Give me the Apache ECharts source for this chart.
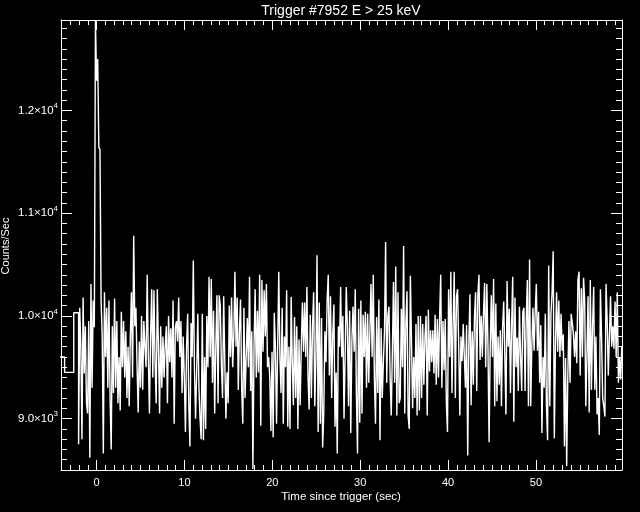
<!DOCTYPE html>
<html><head><meta charset="utf-8">
<script src="https://cdn.jsdelivr.net/npm/echarts@6/dist/echarts.min.js"></script>
<style>html,body{margin:0;padding:0;background:#000}#c{width:640px;height:512px}</style>
</head><body><div id="c"></div>
<script>
const titleText = 'Trigger #7952 E > 25 keV';
const xName = 'Time since trigger (sec)';
const yName = 'Counts/Sec';
const coarseTimes = [-4.7, -3.64, -2.6];
const coarseCounts = [9600, 9450, 10030];
const fineStart = -2.048;
const fineWidth = 0.128;
const fineCounts = [
8750,10080,9700,8800,10180,9440,9900,9150,9050,9950,8620,10310,9300,10150,9890,12880,12290,12500,11640,11620,10150,9800,8660,10230,9600,10080,9300,10150,9200,8700,9900,9250,
10170,9300,9950,9150,9600,9080,10040,9500,9950,9400,9850,9200,9700,9120,9800,10230,9400,10780,9900,10080,9500,9060,9750,9300,10000,9280,9950,9700,9500,10400,9600,9050,9800,10260,9400,10250,9550,9150,10260,9700,9050,9900,9300,9800,9400,9700,9900,9150,10000,9550,9880,9400,10150,8950,9880,
9950,9750,10180,9600,9950,9250,9800,9400,8870,9700,
10020,9120,8730,9930,9600,10540,9500,9000,9450,10020,
9300,9000,8800,10020,8790,9600,8900,10000,9500,10380,
9600,10360,9350,10050,9050,9700,10200,9150,10200,10100,
9500,9200,10190,9550,9000,9450,9150,10100,9600,10180,
9500,9800,10430,9700,10180,9280,9850,10160,9300,8950,
10080,9200,9600,9980,9500,10380,9270,9850,8510,9700,
10260,9400,10050,9450,10400,8930,10350,9650,10250,9800,
10310,9500,9600,9400,8880,9650,8820,10030,9700,8950,
9700,10430,9600,9250,10080,8950,9800,9500,10250,
8920,9700,8900,10185,9550,9130,9990,9200,9900,8900,
9770,9130,9700,10130,9650,10130,9600,10280,9400,9090,
10010,9200,9900,10230,9120,9600,10590,8870,10130,8950,
9980,8720,9050,9850,9550,10160,10400,9420,10190,9200,
9820,10110,8920,9450,8660,9900,9700,10280,9600,10000,
9000,9600,10280,9900,9120,10050,8860,9750,10090,9650,
10260,9250,8660,10070,8960,10150,9050,10010,9600,10040,
9300,10020,9350,9850,10310,9600,10400,9400,8950,9990,
9250,10160,8790,9880,9200,9550,9850,10720,9350,10000,
10090,9400,9030,9650,10330,9350,10480,9030,10230,9150,
9200,10070,9500,10680,9050,9930,10240,9030,8900,10390,
9750,9100,9600,9200,9920,9030,10000,9080,10000,9200,
9920,9330,9800,10000,9030,10060,9460,9860,9550,9860,
9440,10010,9330,9970,9400,9980,10400,9300,9950,9470,
9970,9160,8870,10260,9600,10430,9250,9920,10430,9200,
10190,10260,9700,9030,9800,9560,9920,9600,9300,9910,
8640,9750,10210,9130,9850,9330,9990,10230,9270,10200,
10400,9570,10000,9600,10010,10320,9500,10310,9700,8770,
9700,10200,9600,10360,9120,10120,9170,9800,9330,9860,
9120,9880,10140,9600,9040,10340,9700,10070,9250,9900,
10380,8970,10180,9500,9790,9270,10090,9600,9270,10040,
10080,9270,9950,10350,9120,10550,9120,9700,10080,9660,
10040,10310,9660,10040,9350,9910,8860,9600,9300,10020,
9120,8790,10490,9120,10020,10230,10630,8810,9700,10230,
9650,10150,9600,10020,9660,9820,8730,9590,8540,9410,
9950,9350,10020,9930,9820,9600,9850,9540,10350,10430,
9420,10270,9600,10370,10150,9120,9600,10190,9060,10350,
9280,9900,10280,9280,9800,9040,9200,8840,10260,9800,
9200,9120,9020,10310,9950,9420,9800,10190,9700,9900,
9680,10140,9600,10230,9350,9600,9380,9700
];
const xRange = [-4.05, 59.8];
const yRange = [8500, 12880];

const data = [];
coarseTimes.forEach((t, i) => data.push([t, coarseCounts[i]]));
fineCounts.forEach((v, i) => data.push([+(fineStart + i * fineWidth).toFixed(3), v]));
data.push([+(fineStart + fineCounts.length * fineWidth).toFixed(3), fineCounts[fineCounts.length - 1]]);

const FONT = 'Liberation Sans';
const white = '#ffffff';
const tick = {show: true, inside: true, length: 10, lineStyle: {color: white, width: 1}};
const minor = {show: true, splitNumber: 10, length: 5, lineStyle: {color: white, width: 1}};
const ytick = {show: true, inside: true, length: 11, lineStyle: {color: white, width: 1}};
const yminor = {show: true, splitNumber: 10, length: 6, lineStyle: {color: white, width: 1}};
const line = {show: true, onZero: false, lineStyle: {color: white, width: 1}};

function xfmt(v) {
  const r = Math.round(v / 10) * 10;
  return Math.abs(v - r) < 1e-6 ? String(r) : '';
}
function yfmt(v) {
  if (Math.abs(v % 1000) > 1e-6) return '';
  const e = Math.floor(Math.log10(v));
  const m = (v / Math.pow(10, e)).toFixed(1);
  return '{b|' + m + '×10}{s|' + e + '}';
}

const chart = echarts.init(document.getElementById('c'), null, {renderer: 'canvas'});
chart.setOption({
  backgroundColor: '#000000',
  animation: false,
  grid: {left: 61, right: 18, top: 20, bottom: 42, containLabel: false},
  xAxis: [
    {type: 'value', position: 'bottom', min: xRange[0], max: xRange[1],
     axisLine: line, axisTick: tick, minorTick: minor, splitLine: {show: false},
     axisLabel: {show: true, color: white, fontFamily: FONT, fontSize: 11, margin: 7, formatter: xfmt}},
    {type: 'value', position: 'top', min: xRange[0], max: xRange[1],
     axisLine: line, axisTick: tick, minorTick: minor, splitLine: {show: false},
     axisLabel: {show: false}}
  ],
  yAxis: [
    {type: 'value', position: 'left', min: yRange[0], max: yRange[1],
     axisLine: line, axisTick: ytick, minorTick: yminor, splitLine: {show: false},
     axisLabel: {show: true, margin: 3, formatter: yfmt,
       rich: {b: {color: white, fontFamily: FONT, fontSize: 11.5},
              s: {color: white, fontFamily: FONT, fontSize: 8, padding: [0, 0, 9, 0]}}}},
    {type: 'value', position: 'right', min: yRange[0], max: yRange[1],
     axisLine: line, axisTick: ytick, minorTick: yminor, splitLine: {show: false},
     axisLabel: {show: false}}
  ],
  series: [{
    type: 'line', data: data, step: 'end', showSymbol: false, symbol: 'none',
    lineStyle: {color: white, width: 1.4}, clip: true, silent: true,
    xAxisIndex: 0, yAxisIndex: 0
  }],
  graphic: [
    {type: 'text', x: 341, y: 11, style: {text: titleText, fill: white, font: '14px "' + FONT + '"', align: 'center', verticalAlign: 'middle'}},
    {type: 'text', x: 341, y: 497, style: {text: xName, fill: white, font: '11.5px "' + FONT + '"', align: 'center', verticalAlign: 'middle'}},
    {type: 'text', x: 6, y: 246, rotation: Math.PI / 2, style: {text: yName, fill: white, font: '11px "' + FONT + '"', align: 'center', verticalAlign: 'middle'}}
  ]
});
</script>
</body></html>
